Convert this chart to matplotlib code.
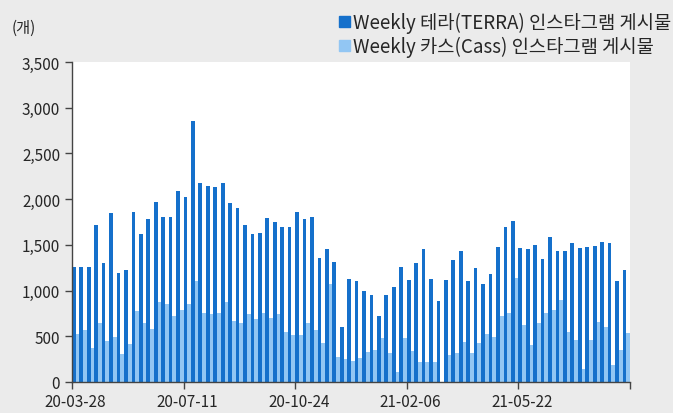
import matplotlib
matplotlib.use('Agg')
import matplotlib.pyplot as plt
import numpy as np
import pandas as pd
from matplotlib.patches import Patch
from matplotlib.ticker import FuncFormatter

plt.rcParams['font.family'] = ['Noto Sans CJK KR', 'DejaVu Sans']

# weekly instagram posts, from 2020-03-28
start_date = '2020-03-28'
terra = [1260, 1260, 1260, 1720, 1300, 1850, 1190, 1230, 1860, 1620,
         1780, 1970, 1800, 1800, 2090, 2020, 2860, 2180, 2140, 2130,
         2180, 1960, 1900, 1720, 1620, 1630, 1790, 1750, 1690, 1690,
         1860, 1780, 1800, 1360, 1460, 1310, 600, 1130, 1100, 990,
         950, 720, 950, 1040, 1260, 1120, 1300, 1450, 1130, 890,
         1120, 1330, 1430, 1110, 1250, 1070, 1180, 1480, 1700, 1760,
         1470, 1450, 1500, 1340, 1590, 1430, 1430, 1520, 1470, 1480,
         1490, 1530, 1520, 1100, 1220]
cass = [525, 570, 375, 645, 450, 490, 305, 415, 775, 640,
        580, 875, 855, 720, 785, 855, 1100, 750, 745, 750,
        880, 670, 640, 745, 690, 750, 695, 745, 545, 515,
        515, 645, 570, 430, 1075, 275, 255, 230, 260, 330,
        350, 485, 320, 105, 480, 340, 215, 215, 215, 0,
        300, 320, 435, 320, 425, 520, 490, 720, 750, 1135,
        620, 410, 650, 755, 790, 895, 545, 460, 140, 455,
        655, 605, 190, 355, 535]
label_every = 15

weeks = pd.date_range(start_date, periods=len(terra), freq='7D')
x = np.arange(len(weeks))

dark = '#1570CB'
light = '#92C6F3'
txt = '#262626'

fig = plt.figure(figsize=(6.73, 4.14), dpi=100)
fig.patch.set_facecolor('#EBEBEB')
ax = fig.add_axes([72 / 673, 31 / 414, 558 / 673, 320 / 414])
ax.set_facecolor('white')

ax.bar(x - 0.25, terra, width=0.5, color=dark, linewidth=0)
ax.bar(x + 0.25, cass, width=0.5, color=light, linewidth=0)

ax.set_xlim(-0.5, len(x) - 0.5)
ax.set_ylim(0, 3500)
ax.set_yticks(np.arange(0, 3501, 500))
ax.yaxis.set_major_formatter(FuncFormatter(lambda v, p: f'{int(v):,}'))

# ticks between categories, labels under the first week of each group
ax.set_xticks(np.append(x[::label_every] - 0.5, len(x) - 0.5))
ax.set_xticklabels([])
ax.set_xticks(x[::label_every], minor=True)
ax.set_xticklabels([d.strftime('%y-%m-%d') for d in weeks[::label_every]], minor=True)
ax.tick_params(axis='x', which='minor', length=0, pad=8)
ax.tick_params(axis='x', which='major', length=5, width=1, color='#444444')
ax.tick_params(axis='y', length=5, width=1, color='#444444')
ax.tick_params(which='both', labelsize=11, labelcolor=txt)

for side in ['top', 'right']:
    ax.spines[side].set_visible(False)
for side in ['left', 'bottom']:
    ax.spines[side].set_color('#444444')
    ax.spines[side].set_linewidth(1)

fig.text(12 / 673, 1 - 28 / 414, '(개)', fontsize=11, color=txt, va='center')

handles = [Patch(color=dark, label='Weekly 테라(TERRA) 인스타그램 게시물'),
           Patch(color=light, label='Weekly 카스(Cass) 인스타그램 게시물')]
fig.legend(handles=handles, loc='upper right', bbox_to_anchor=(1.012, 0.994),
           frameon=False, fontsize=13.5, handlelength=0.55, handleheight=0.55,
           handletextpad=0.15, labelspacing=0.15, borderaxespad=0.15,
           labelcolor=txt)

plt.savefig('out.png', dpi=100, facecolor=fig.get_facecolor())
